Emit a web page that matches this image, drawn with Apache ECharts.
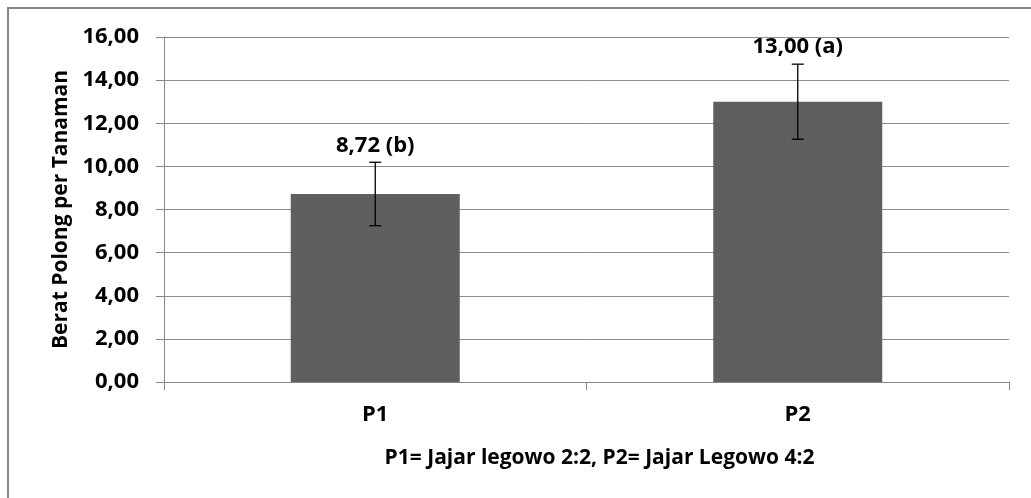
<!DOCTYPE html>
<html lang="id">
<head>
    <meta charset="UTF-8">
    <title>Berat Polong per Tanaman</title>
    <script src="https://cdn.jsdelivr.net/npm/echarts@6/dist/echarts.min.js"></script>
    <style>
        html, body { margin: 0; padding: 0; background: #ffffff; }
        #main { width: 1031px; height: 498px; }
    </style>
</head>
<body>
    <div id="main"></div>
    <script>
        // data
        var categories = ['P1', 'P2'];
        var values = [8.72, 13.00];
        var errors = [1.47, 1.74];
        var letters = ['b', 'a'];
        var yTicks = { min: 0, max: 16, interval: 2 };

        var fontFamily = '"Open Sans", "Noto Sans", sans-serif';

        function comma(v) {
            return v.toFixed(2).replace('.', ',');
        }

        var chart = echarts.init(document.getElementById('main'));

        var option = {
            animation: false,
            textStyle: { fontFamily: fontFamily },
            graphic: [{
                type: 'rect',
                shape: { x: 8, y: 8, width: 1200, height: 700 },
                style: { fill: 'none', stroke: '#868686', lineWidth: 2 },
                silent: true
            }],
            grid: { left: 164, right: 22, top: 37, bottom: 116 },
            xAxis: {
                type: 'category',
                data: categories,
                name: 'P1= Jajar legowo 2:2, P2= Jajar Legowo 4:2',
                nameLocation: 'middle',
                nameGap: 66,
                nameTextStyle: { color: '#000', fontWeight: 'bold', fontSize: 21, padding: [0, 0, 0, 26] },
                axisLine: { lineStyle: { color: '#868686', width: 1 } },
                axisTick: { show: true, length: 8, lineStyle: { color: '#868686' } },
                axisLabel: { color: '#000', fontWeight: 'bold', fontSize: 22, margin: 22 }
            },
            yAxis: {
                type: 'value',
                min: yTicks.min,
                max: yTicks.max,
                interval: yTicks.interval,
                name: 'Berat Polong per Tanaman',
                nameLocation: 'middle',
                nameGap: 90,
                nameTextStyle: { color: '#000', fontWeight: 'bold', fontSize: 21 },
                axisLine: { show: true, lineStyle: { color: '#868686', width: 1 } },
                axisTick: { show: true, length: 8, lineStyle: { color: '#868686' } },
                splitLine: { lineStyle: { color: '#8c8c8c', width: 1 } },
                axisLabel: {
                    color: '#000', fontWeight: 'bold', fontSize: 22, margin: 25,
                    formatter: function (v) { return comma(v); }
                }
            },
            series: [{
                type: 'bar',
                data: values,
                barWidth: '40%',
                itemStyle: { color: '#5f5f5f' }
            }, {
                type: 'custom',
                data: values.map(function (v, i) { return [i, v, errors[i]]; }),
                z: 10,
                renderItem: function (params, api) {
                    var i = api.value(0);
                    var v = api.value(1);
                    var e = api.value(2);
                    var top = api.coord([i, v + e]);
                    var bot = api.coord([i, v - e]);
                    var cap = 6;
                    var ls = { stroke: '#000', lineWidth: 1.3 };
                    return {
                        type: 'group',
                        children: [
                            { type: 'line', shape: { x1: top[0], y1: top[1], x2: bot[0], y2: bot[1] }, style: ls },
                            { type: 'line', shape: { x1: top[0] - cap, y1: top[1], x2: top[0] + cap, y2: top[1] }, style: ls },
                            { type: 'line', shape: { x1: bot[0] - cap, y1: bot[1], x2: bot[0] + cap, y2: bot[1] }, style: ls },
                            {
                                type: 'text',
                                style: {
                                    x: top[0], y: top[1] - 17,
                                    text: comma(v) + ' (' + letters[params.dataIndex] + ')',
                                    fill: '#000',
                                    font: 'bold 22px ' + fontFamily,
                                    align: 'center',
                                    verticalAlign: 'middle'
                                }
                            }
                        ]
                    };
                }
            }]
        };

        chart.setOption(option);
    </script>
</body>
</html>
